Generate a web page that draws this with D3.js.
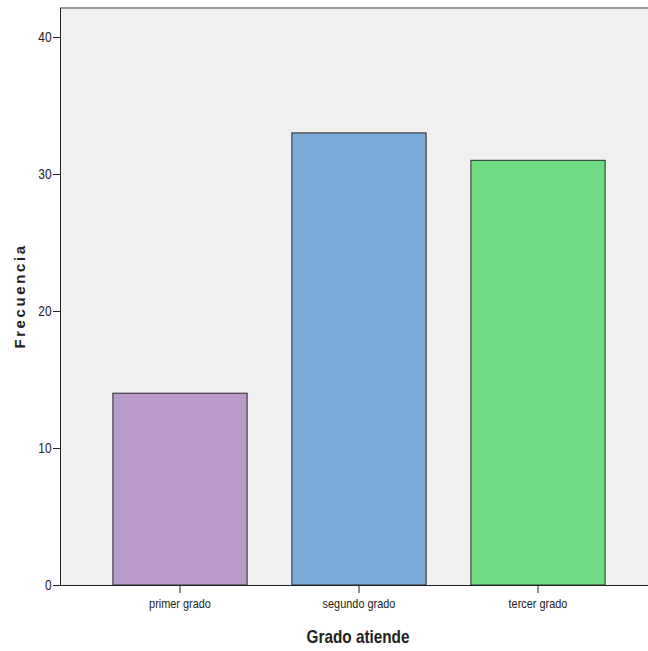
<!DOCTYPE html>
<html><head><meta charset="utf-8">
<script src="https://cdn.jsdelivr.net/npm/d3@7"></script>
<style>body{margin:0;background:#fff}svg{display:block}</style>
</head><body>
<svg id="c" width="648" height="651"></svg>
<script>
const categories = ["primer grado", "segundo grado", "tercer grado"];
const values = [14, 33, 31];
const colors = ["#b89bc8", "#7aaad6", "#70dd84"];
const yTicks = [0, 10, 20, 30, 40];

const svg = d3.select("#c");
const mLeft = 60, mRight = 648, mTop = 8, mBottom = 585;
const y = d3.scaleLinear().domain([0, 40]).range([mBottom, 37]);
const x = d3.scaleBand().domain(categories).range([90.5, 627.5]).paddingInner(0.25).paddingOuter(0.125);
const font = "'Liberation Sans',Arial,sans-serif";

svg.append("rect").attr("x", mLeft).attr("y", mTop).attr("width", mRight - mLeft).attr("height", mBottom - mTop).attr("fill", "#f0f0f0");
svg.append("line").attr("x1", mLeft).attr("x2", mRight).attr("y1", mTop).attr("y2", mTop).attr("stroke", "#999").attr("stroke-width", 2);

svg.selectAll("rect.bar").data(values).enter().append("rect").attr("class", "bar")
  .attr("x", (d, i) => x(categories[i]))
  .attr("y", d => y(d))
  .attr("width", x.bandwidth())
  .attr("height", d => mBottom - y(d))
  .attr("fill", (d, i) => colors[i])
  .attr("stroke", "#2a2a2a").attr("stroke-width", 1);

const ya = svg.append("g").attr("transform", `translate(${mLeft},0)`)
  .call(d3.axisLeft(y).tickValues(yTicks).tickSize(7).tickPadding(1).tickFormat(d3.format("d")));
ya.select(".domain").attr("d", `M0.5,${mTop}V${mBottom}`).attr("stroke", "#222");
ya.selectAll("line").attr("stroke", "#222");
ya.selectAll("text").attr("font-family", font).attr("font-size", 14).attr("fill", "#222")
  .attr("x", -8.5 / 0.85).attr("transform", "scale(0.85,1)");

const xa = svg.append("g").attr("transform", `translate(0,${mBottom})`)
  .call(d3.axisBottom(x).tickSize(8).tickPadding(6));
xa.select(".domain").attr("d", `M${mLeft},0.5H${mRight}`).attr("stroke", "#222");
xa.selectAll("line").attr("stroke", "#222");
xa.selectAll("text").attr("font-family", font).attr("font-size", 13).attr("fill", "#222")
  .attr("transform", "scale(0.84,1)");

svg.append("text").attr("transform", "translate(358,643) scale(0.85,1)").attr("text-anchor", "middle")
  .attr("font-family", font).attr("font-weight", "bold").attr("font-size", 18).attr("fill", "#222").text("Grado atiende");
svg.append("text").attr("transform", "translate(25,296) rotate(-90)").attr("text-anchor", "middle")
  .attr("font-family", font).attr("font-weight", "bold").attr("font-size", 15)
  .attr("letter-spacing", 2.6).attr("fill", "#222").text("Frecuencia");
</script>
</body></html>
